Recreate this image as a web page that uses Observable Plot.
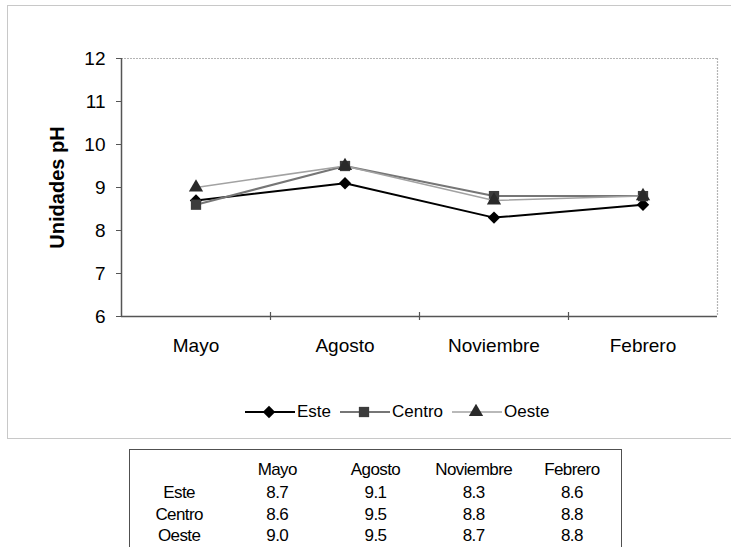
<!DOCTYPE html>
<html>
<head>
<meta charset="utf-8">
<script src="https://cdn.jsdelivr.net/npm/d3@7"></script>
<script src="https://cdn.jsdelivr.net/npm/@observablehq/plot@0.6"></script>
<style>
  html, body { margin: 0; padding: 0; background: #fff; }
  #page { position: relative; width: 731px; height: 547px; overflow: hidden; background: #fff;
          font-family: Arial, "Liberation Sans", sans-serif; color: #000; }
  #frame { position: absolute; left: 7px; top: 5px; width: 740px; height: 432px; border: 1px solid #c8c8c8; }
  #chart { position: absolute; left: 0; top: 0; }
  #legend { position: absolute; left: 245px; top: 402px; display: flex; align-items: center; font-size: 17px; }
  #legend .item { display: flex; align-items: center; margin-right: 9px; }
  #legend .item span { margin-left: 2px; }
  #table { position: absolute; left: 129px; top: 449px; width: 491px; height: 120px;
           border: 1.5px solid #505050; font-size: 17px; letter-spacing: -0.6px; color: #000; }
  #table table { border-collapse: collapse; width: 100%; table-layout: fixed; margin-top: 8px; }
  #table td { text-align: center; padding: 0; height: 21.5px; line-height: 21.5px; }
  #table tr.head td { height: 24px; line-height: 24px; }
</style>
</head>
<body>
<div id="page">
  <div id="frame"></div>
  <div id="chart"></div>
  <div id="legend"></div>
  <div id="table"></div>
</div>
<script>
// pH per sampling month for each zone
const months = ["Mayo", "Agosto", "Noviembre", "Febrero"];
const seriesNames = ["Este", "Centro", "Oeste"];
const este = [8.7, 9.1, 8.3, 8.6];
const centro = [8.6, 9.5, 8.8, 8.8];
const oeste = [9.0, 9.5, 8.7, 8.8];
const yTicks = [6, 7, 8, 9, 10, 11, 12];
const yLabel = "Unidades pH";

// drawing style of each series
const styles = {
  Este:   {stroke: "#000000", strokeWidth: 2,   symbol: "diamond2", fill: "#000000", r: 5.6},
  Centro: {stroke: "#767676", strokeWidth: 2,   symbol: "square",   fill: "#3c3c3c", r: 5.8},
  Oeste:  {stroke: "#a2a2a2", strokeWidth: 1.5, symbol: "triangle", fill: "#2a2a2a", r: 5.3}
};

const values = {Este: este, Centro: centro, Oeste: oeste};
const rows = seriesNames.flatMap(s =>
  values[s].map((v, i) => ({i, month: months[i], value: v, series: s})));

// category boundaries on the x axis (between months)
const boundaries = months.slice(1).map((_, k) => k + 0.5);

const seriesMarks = seriesNames.flatMap(s => {
  const st = styles[s];
  const data = rows.filter(d => d.series === s);
  return [
    Plot.line(data, {x: "i", y: "value", stroke: st.stroke, strokeWidth: st.strokeWidth}),
    Plot.dot(data, {x: "i", y: "value", symbol: () => st.symbol, fill: st.fill, stroke: "none", r: st.r})
  ];
});

const chart = Plot.plot({
  width: 731,
  height: 438,
  marginLeft: 121,
  marginRight: 14,
  marginTop: 58,
  marginBottom: 122,
  style: {fontFamily: "Arial, 'Liberation Sans', sans-serif", fontSize: "19px", background: "transparent", color: "#000", overflow: "visible"},
  x: {domain: [-0.5, months.length - 0.5], axis: null},
  y: {domain: [yTicks[0], yTicks[yTicks.length - 1]], axis: null},
  symbol: {type: "identity"},
  marks: [
    // plot-area border: light top and right, dark axis lines left and bottom
    Plot.ruleY([yTicks[yTicks.length - 1]], {stroke: "#b4b4b4", strokeWidth: 1.2, strokeDasharray: "2,1"}),
    Plot.ruleX([months.length - 0.5], {stroke: "#b4b4b4", strokeWidth: 1.2, strokeDasharray: "2,1"}),
    Plot.ruleY([yTicks[0]], {stroke: "#555", strokeWidth: 1.5}),
    Plot.ruleX([-0.5], {stroke: "#555", strokeWidth: 1.5}),
    Plot.ruleX(boundaries, {y1: yTicks[0], y2: yTicks[0], insetTop: -4, insetBottom: -4, stroke: "#555", strokeWidth: 1.2}),
    Plot.axisY({ticks: yTicks, tickFormat: d => String(d), tickSize: 5, tickPadding: 11, label: null, stroke: "#555", fontSize: 19}),
    Plot.axisX({ticks: months.map((_, i) => i), tickFormat: i => months[i], tickSize: 0, tickPadding: 22, label: null, fontSize: 19}),
    Plot.text([yLabel], {frameAnchor: "left", dx: -64, rotate: -90, fontWeight: "bold", fontSize: 20, textAnchor: "middle"}),
    ...seriesMarks
  ]
});
document.getElementById("chart").appendChild(chart);

// legend
const symbolTypes = {diamond2: d3.symbolDiamond2, square: d3.symbolSquare, triangle: d3.symbolTriangle};
const legend = d3.select("#legend");
seriesNames.forEach(s => {
  const st = styles[s];
  const item = legend.append("div").attr("class", "item");
  const svg = item.append("svg").attr("width", 50).attr("height", 16);
  svg.append("line").attr("x1", 0).attr("x2", 50).attr("y1", 8).attr("y2", 8)
    .attr("stroke", st.stroke).attr("stroke-width", st.strokeWidth);
  svg.append("path")
    .attr("transform", "translate(24,8)")
    .attr("d", d3.symbol(symbolTypes[st.symbol], Math.PI * st.r * st.r)())
    .attr("fill", st.fill);
  item.append("span").text(s);
});

// data table under the chart
const table = d3.select("#table").append("table");
const head = table.append("tr").attr("class", "head");
head.append("td").text("");
months.forEach(m => head.append("td").text(m));
seriesNames.forEach(s => {
  const tr = table.append("tr");
  tr.append("td").text(s);
  values[s].forEach(v => tr.append("td").text(v.toFixed(1)));
});
</script>
</body>
</html>
